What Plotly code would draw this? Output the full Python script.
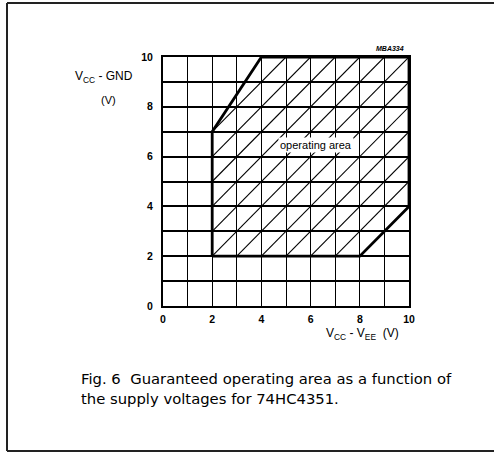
import plotly.graph_objects as go

# ---- data ----
grid_values = list(range(0, 11))          # grid every 1 V
tick_values = [0, 2, 4, 6, 8, 10]
tick_labels = ["0", "2", "4", "6", "8", "10"]
# operating-area boundary (Vcc-Vee, Vcc-GND)
area_x = [2, 2, 4, 10, 10, 8, 2]
area_y = [2, 7, 10, 10, 4, 2, 2]
# hatching lines y = x + c
hatch_offsets = [-5, -4, -3, -2, -1, 0, 1, 2, 3, 4, 5]
label_text = "operating area"
label_pos = (6.2, 6.45)

W, H = 494, 453
L, R, T, B = 163, 85, 57, 147
PW, PH = W - L - R, H - T - B


def px(p):
    return (p - L) / PW


def py(p):
    return (H - B - p) / PH


def clip_hatch(c):
    # clip y = x + c to the convex operating area
    xmin = max(2, 2 - c, 2 * c - 8)
    xmax = min(10, 10 - c)
    if xmax <= xmin:
        return None
    return [xmin, xmax], [xmin + c, xmax + c]


fig = go.Figure()

hx, hy = [], []
for c in hatch_offsets:
    seg = clip_hatch(c)
    if seg:
        hx += seg[0] + [None]
        hy += seg[1] + [None]
fig.add_trace(go.Scatter(x=hx, y=hy, mode="lines",
                         line=dict(color="black", width=1.1),
                         hoverinfo="skip", showlegend=False))

fig.add_trace(go.Scatter(x=area_x, y=area_y, mode="lines",
                         line=dict(color="black", width=2.8),
                         hoverinfo="skip", showlegend=False, cliponaxis=False))

FONT = "Liberation Sans, Arial, sans-serif"
CAP_FONT = "DejaVu Sans, sans-serif"
axis_font = dict(family=FONT, size=10.5, color="black", weight="bold")

fig.update_xaxes(range=[0, 10], tickvals=tick_values, ticktext=tick_labels,
                 showgrid=True, gridcolor="black", gridwidth=1.3,
                 minor=dict(tickvals=grid_values, showgrid=True, gridcolor="black", gridwidth=1.3),
                 showline=True, linecolor="black", linewidth=2, mirror=True,
                 zeroline=False, ticks="", tickfont=axis_font, ticklabelstandoff=2)
fig.update_yaxes(range=[0, 10], tickvals=tick_values, ticktext=tick_labels,
                 showgrid=True, gridcolor="black", gridwidth=2,
                 minor=dict(tickvals=grid_values, showgrid=True, gridcolor="black", gridwidth=2),
                 showline=True, linecolor="black", linewidth=2, mirror=True,
                 zeroline=False, ticks="", tickfont=axis_font, ticklabelstandoff=6)


def ann(x, y, text, size, xanchor="center", family=FONT):
    return dict(x=px(x), y=py(y), xref="paper", yref="paper", text=text,
                showarrow=False, xanchor=xanchor, yanchor="middle",
                font=dict(family=family, size=size, color="black"))


anns = [
    dict(x=label_pos[0], y=label_pos[1], xref="x", yref="y", text=label_text,
         showarrow=False, bgcolor="white", borderpad=1,
         xanchor="center", yanchor="middle",
         font=dict(family=FONT, size=11, color="black")),
    ann(104, 77, "V<sub>CC</sub> - GND", 12),
    ann(108, 100, "(V)", 11),
    ann(362, 334, "V<sub>CC</sub> - V<sub>EE</sub>  (V)", 12),
    ann(406, 48, "<b><i>MBA334</i></b>", 7, xanchor="right"),
    ann(79, 378, "Fig. 6  Guaranteed operating area as a function of", 14.8,
        xanchor="left", family=CAP_FONT),
    ann(79, 398, "the supply voltages for 74HC4351.", 14.8,
        xanchor="left", family=CAP_FONT),
]

fx0, fx1, fy0, fy1 = px(7), px(494), py(451), py(3)
frame = dict(color="#222", width=2)
shapes = [
    dict(type="line", xref="paper", yref="paper", x0=fx0, x1=fx1, y0=fy1, y1=fy1, line=frame),
    dict(type="line", xref="paper", yref="paper", x0=fx0, x1=fx1, y0=fy0, y1=fy0, line=frame),
    dict(type="line", xref="paper", yref="paper", x0=fx0, x1=fx0, y0=fy0, y1=fy1, line=frame),
]

fig.update_layout(width=W, height=H, margin=dict(l=L, r=R, t=T, b=B),
                  paper_bgcolor="white", plot_bgcolor="white",
                  annotations=anns, shapes=shapes, showlegend=False)

fig.write_html("out.html", config={"displayModeBar": False},
               post_script="document.body.style.margin='0';document.body.style.overflow='hidden';")
